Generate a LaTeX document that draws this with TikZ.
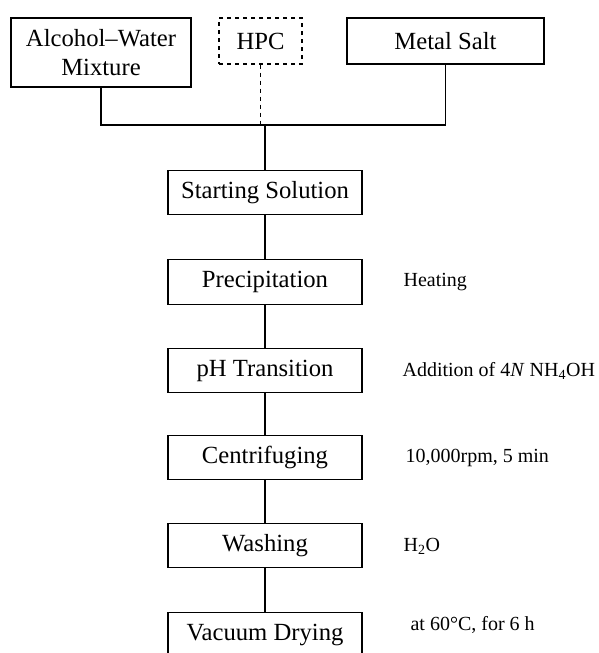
\documentclass[tikz,border=0pt]{standalone}
\usepackage{fontspec}
\setmainfont{Liberation Serif}
\begin{document}
\begin{tikzpicture}[x=0.75pt,y=-0.75pt,line width=0.9pt,
  stage/.style={draw,rectangle,minimum width=145.5pt,minimum height=33.5pt,inner sep=0pt,font=\fontsize{18.5}{21}\selectfont},
  source/.style={draw,rectangle,inner sep=0pt,align=center,font=\fontsize{18.5}{22}\selectfont},
  note/.style={anchor=west,inner sep=0pt,font=\fontsize{15}{18}\selectfont}]
\useasboundingbox (0,0) rectangle (599,653);
\node[source,minimum width=135pt,minimum height=51.75pt] (alc) at (101,52.5) {Alcohol--Water\\Mixture};
\node[source,dashed,minimum width=62.25pt,minimum height=34.5pt] (hpc) at (260.5,41) {HPC};
\node[source,minimum width=147.75pt,minimum height=34.5pt] (ms) at (445.5,41) {Metal Salt};
\coordinate (j) at (265,125);

\node[stage] (start) at (265,192.5) {Starting Solution};
\node[stage] (prec) at (265,282) {Precipitation};
\node[stage] (ph) at (265,370.5) {pH Transition};
\node[stage] (cent) at (265,457.5) {Centrifuging};
\node[stage] (wash) at (265,545.5) {Washing};
\node[stage] (vac) at (265,634.5) {Vacuum Drying};

\node[note] (heat) at (403,282) {Heating};
\node[note] (add) at (402,371) {Addition of 4\textit{N} NH\textsubscript{4}OH};
\node[note] (rpm) at (405,457.5) {10,000rpm, 5 min};
\node[note] (water) at (403,546) {H\textsubscript{2}O};
\node[note] (dry) at (410,625) {at 60°C, for 6 h};

\draw (alc.south) |- (j) -| (ms.south);
\draw[dashed] (hpc) -- (hpc.south |- j);
\draw (j) edge (start);
\draw (start) edge (prec);
\draw (prec) edge (ph);
\draw (ph) edge (cent);
\draw (cent) edge (wash);
\draw (wash) edge (vac);
\end{tikzpicture}
\end{document}
